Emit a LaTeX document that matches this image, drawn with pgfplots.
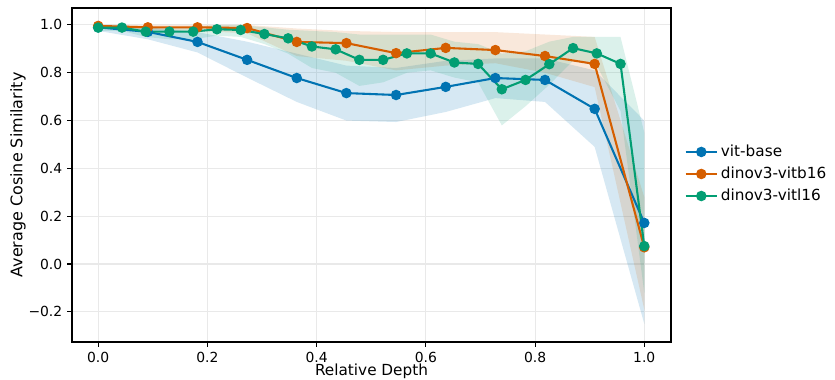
\documentclass[border=0pt]{standalone}
\usepackage{fontspec}
\setmainfont{DejaVu Sans}
\usepackage{pgfplots}
\pgfplotsset{compat=1.18}
\usepackage{pgfplotstable}
\usepgfplotslibrary{fillbetween}

\definecolor{cblue}{HTML}{0173B2}
\definecolor{corange}{HTML}{D55E00}
\definecolor{cgreen}{HTML}{029E73}

\pgfplotstableread{
x m lo hi
0.0000 0.990 0.975 1.000
0.0909 0.971 0.940 0.990
0.1818 0.929 0.885 0.970
0.2727 0.854 0.780 0.930
0.3636 0.778 0.678 0.880
0.4545 0.715 0.600 0.830
0.5455 0.707 0.594 0.820
0.6364 0.741 0.636 0.850
0.7273 0.778 0.694 0.860
0.8182 0.770 0.678 0.860
0.9091 0.649 0.490 0.810
1.0000 0.172 -0.250 0.600
}\vitbase

\pgfplotstableread{
x m lo hi
0.0000 0.996 0.985 1.000
0.0909 0.990 0.980 1.000
0.1818 0.990 0.975 1.000
0.2727 0.987 0.965 1.000
0.3636 0.929 0.870 0.985
0.4545 0.924 0.850 0.975
0.5455 0.882 0.810 0.970
0.6364 0.904 0.830 0.970
0.7273 0.895 0.840 0.970
0.8182 0.870 0.800 0.960
0.9091 0.837 0.740 0.950
1.0000 0.070 -0.190 0.280
}\vitbsixteen

\pgfplotstableread{
x m lo hi
0.0000 0.989 0.975 1.000
0.0435 0.989 0.975 1.000
0.0870 0.972 0.950 0.990
0.1304 0.972 0.940 0.990
0.1739 0.972 0.940 0.990
0.2174 0.982 0.955 1.000
0.2609 0.979 0.950 1.000
0.3043 0.962 0.920 0.990
0.3478 0.944 0.880 0.980
0.3913 0.910 0.820 0.975
0.4348 0.898 0.800 0.970
0.4783 0.854 0.745 0.960
0.5217 0.854 0.760 0.960
0.5652 0.881 0.800 0.960
0.6087 0.881 0.810 0.960
0.6522 0.843 0.780 0.930
0.6957 0.837 0.760 0.920
0.7391 0.731 0.580 0.880
0.7826 0.770 0.660 0.890
0.8261 0.836 0.750 0.930
0.8696 0.903 0.850 0.950
0.9130 0.881 0.830 0.950
0.9565 0.837 0.640 0.950
1.0000 0.075 -0.120 0.550
}\vitlsixteen

\begin{document}
\begin{tikzpicture}
\begin{axis}[
  at={(0pt,0pt)}, anchor=south west,
  scale only axis,
  width=431.3pt, height=240.5pt,
  xmin=-0.048, xmax=1.049,
  ymin=-0.326, ymax=1.071,
  xtick={0,0.2,0.4,0.6,0.8,1.0},
  xticklabels={0.0,0.2,0.4,0.6,0.8,1.0},
  ytick={-0.2,0,0.2,0.4,0.6,0.8,1.0},
  yticklabels={−0.2,0.0,0.2,0.4,0.6,0.8,1.0},
  tick align=outside, tick pos=left,
  major tick length=3.5pt,
  every tick/.style={black, line width=0.8pt},
  axis line style={black, line width=0.8pt},
  grid=major,
  major grid style={gray!17, line width=0.8pt},
  tick label style={font=\fontsize{10}{12}\selectfont},
  label style={font=\fontsize{11}{13}\selectfont},
  xlabel={Relative Depth},
  ylabel={Average Cosine Similarity},
  xlabel style={at={(axis description cs:0.5,-0.0995)}, anchor=base, inner sep=0pt},
  ylabel style={font=\fontsize{11.5}{13}\selectfont, at={(axis description cs:-0.090,0.5)}, anchor=center},
  legend style={at={(axis description cs:1.015,0.503)}, anchor=west,
    draw=none, fill=none, font=\fontsize{11}{13}\selectfont, row sep=2pt},
  legend cell align=left,
  legend image code/.code={\draw[mark repeat=2,mark phase=2] plot coordinates {(0cm,0cm) (0.4cm,0cm) (0.8cm,0cm)};},
]
% vit-base
\addplot[draw=none, name path=bu, forget plot] table[x=x,y=hi]{\vitbase};
\addplot[draw=none, name path=bl, forget plot] table[x=x,y=lo]{\vitbase};
\addplot[cblue, fill opacity=0.16, draw=none, forget plot] fill between[of=bu and bl];
\addplot[cblue, line width=1.5pt, mark=*, mark size=3pt, mark options={solid, fill=cblue, draw=cblue}] table[x=x,y=m]{\vitbase};
\addlegendentry{vit-base}
% dinov3-vitb16
\addplot[draw=none, name path=ou, forget plot] table[x=x,y=hi]{\vitbsixteen};
\addplot[draw=none, name path=ol, forget plot] table[x=x,y=lo]{\vitbsixteen};
\addplot[corange, fill opacity=0.14, draw=none, forget plot] fill between[of=ou and ol];
\addplot[corange, line width=1.5pt, mark=*, mark size=3pt, mark options={solid, fill=corange, draw=corange}] table[x=x,y=m]{\vitbsixteen};
\addlegendentry{dinov3-vitb16}
% dinov3-vitl16
\addplot[draw=none, name path=gu, forget plot] table[x=x,y=hi]{\vitlsixteen};
\addplot[draw=none, name path=gl, forget plot] table[x=x,y=lo]{\vitlsixteen};
\addplot[cgreen, fill opacity=0.14, draw=none, forget plot] fill between[of=gu and gl];
\addplot[cgreen, line width=1.5pt, mark=*, mark size=3pt, mark options={solid, fill=cgreen, draw=cgreen}] table[x=x,y=m]{\vitlsixteen};
\addlegendentry{dinov3-vitl16}
\end{axis}
\pgfresetboundingbox
\path[use as bounding box] (-51.84pt,-26.64pt) rectangle (549.36pt,246.24pt);
\end{tikzpicture}
\end{document}
